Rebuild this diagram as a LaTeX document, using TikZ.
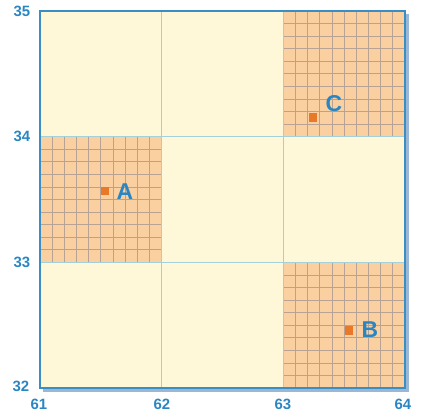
\documentclass[tikz,border=0pt]{standalone}
\usepackage{fontspec}
\setmainfont{Liberation Sans}
\definecolor{cream}{HTML}{FFF8D8}
\definecolor{peach}{HTML}{FBD0A0}
\definecolor{fineline}{HTML}{B8A294}
\definecolor{cellline}{HTML}{A4D0DA}
\definecolor{frameblue}{HTML}{3A8EC4}
\definecolor{shadowblue}{HTML}{9AB8D6}
\definecolor{marker}{HTML}{E8782A}
\definecolor{labelblue}{HTML}{2A86C2}
\tikzset{
  axislbl/.style={font=\bfseries\fontsize{15}{15}\selectfont, text=labelblue, inner sep=0pt},
  ptlbl/.style={font=\bfseries\fontsize{23}{23}\selectfont, text=labelblue, inner sep=0pt},
  markbox/.style={fill=marker, draw=none, minimum size=8.5bp, inner sep=0pt},
}
\begin{document}
\begin{tikzpicture}[x=1bp,y=-1bp]
\useasboundingbox (0,0) rectangle (423,414);
% shadow
\fill[shadowblue] (43,14) rectangle (408.5,391.5);
% cream background
\fill[cream] (40,11) rectangle (405,388);
% orange cells with fine grid
\foreach \xa/\ya in {40/136.67, 283.33/11, 283.33/262.33}{
  \fill[peach] (\xa,\ya) rectangle ++(121.67,125.67);
  \foreach \i in {1,...,9}{
    \draw[fineline, line width=0.7bp] ({\xa+\i*12.167},\ya) -- ++(0,125.67);
    \draw[fineline, line width=0.7bp] (\xa,{\ya+\i*12.567}) -- ++(121.67,0);
  }
}
% cell dividing lines
\draw[cellline, line width=1.1bp] (161.67,11) -- (161.67,388);
\draw[cellline, line width=1.1bp] (283.33,11) -- (283.33,388);
\draw[cellline, line width=1.1bp] (40,136.67) -- (405,136.67);
\draw[cellline, line width=1.1bp] (40,262.33) -- (405,262.33);
% frame
\draw[frameblue, line width=2.6bp] (40,11) rectangle (405,388);
% axis labels
\node[axislbl] (y35) at (22,11.5) {35};
\node[axislbl] (y34) at (22,136) {34};
\node[axislbl] (y33) at (22,262) {33};
\node[axislbl] (y32) at (21,386) {32};
\node[axislbl] (x61) at (39,404) {61};
\node[axislbl] (x62) at (162,404) {62};
\node[axislbl] (x63) at (283,404) {63};
\node[axislbl] (x64) at (403,404) {64};
% points
\node[markbox] (pA) at (105,191) {};
\node[ptlbl] (lA) at (125,192) {A};
\node[markbox] (pC) at (313,117.5) {};
\node[ptlbl] (lC) at (334,104) {C};
\node[markbox] (pB) at (349,330.5) {};
\node[ptlbl] (lB) at (370,330) {B};
\end{tikzpicture}
\end{document}
